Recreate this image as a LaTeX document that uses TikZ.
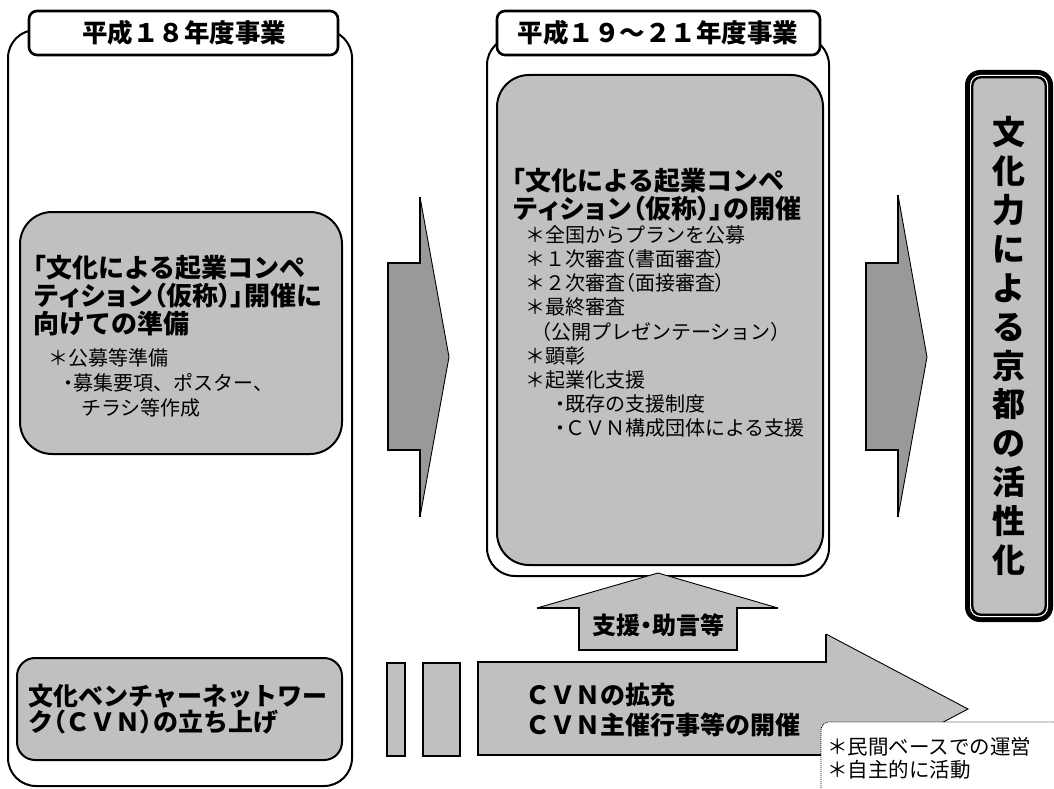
\documentclass[tikz,border=0pt]{standalone}
\usepackage{fontspec}
\setmainfont{Noto Sans CJK JP}
\newfontfamily\jp{Noto Sans CJK JP}
\newfontfamily\jpp{Noto Sans CJK JP}[RawFeature=+palt]
\newcommand{\halfw}[1]{{\jpp #1}}
\definecolor{boxgray}{HTML}{C0C0C0}
\definecolor{arrowgray}{HTML}{999999}
\begin{document}
\begin{tikzpicture}[x=1pt,y=-1pt,
  panel/.style={draw=black,line width=2pt,fill=white,rounded corners=28pt},
  tabbox/.style={draw=black,line width=2.6pt,fill=white,rounded corners=8pt},
  graybox/.style={draw=black,line width=2pt,fill=boxgray},
  thickedge/.style={draw=black,line width=2pt},
  thinedge/.style={draw=black,line width=0.9pt},
  ttl/.style={font=\jp\bfseries\fontsize{25.5}{28}\selectfont,anchor=base,inner sep=0},
  hd/.style={font=\jp\bfseries\fontsize{26}{28}\selectfont,anchor=base west,inner sep=0},
  hdb/.style={font=\jp\bfseries\fontsize{25}{28}\selectfont,anchor=base west,inner sep=0},
  li/.style={font=\jp\fontsize{20}{24}\selectfont,anchor=base west,inner sep=0},
  note/.style={font=\jp\fontsize{20.5}{23}\selectfont,anchor=base west,inner sep=0},
]
\useasboundingbox (0,0) rectangle (1054,789);
\fill[white] (0,0) rectangle (1054,789);

% ---------- left column ----------
\draw[panel] (8,30) rectangle (352,786);
\draw[tabbox] (29,11) rectangle (338,55);
\node[ttl] (t18) at (184,42.7) {平成１８年度事業};

\draw[graybox,rounded corners=32pt] (20,212) rectangle (342,454);
\node[hd] (lh1) at (33,277.8) {\halfw{「}文化による起業コンペ};
\node[hd] (lh2) at (33,305.8) {テ\halfw{ィ}シ\halfw{ョ}ン\halfw{（}仮称\halfw{）」}開催に};
\node[hd] (lh3) at (33,333.8) {向けての準備};
\node[li] (ll1) at (48,365.6) {＊公募等準備};
\node[li] (ll2) at (63,390.6) {\halfw{・}募集要項、ポスター、};
\node[li] (ll3) at (81,415.6) {チラシ等作成};

\draw[graybox,rounded corners=18pt] (17,658) rectangle (342,760);
\node[hdb] (cvn1) at (28,705.5) {文化ベンチャーネットワー};
\node[hdb] (cvn2) at (28,731.5) {ク\halfw{（}ＣＶＮ\halfw{）}の立ち上げ};

% ---------- arrow 1 ----------
\fill[arrowgray] (388,263) -- (420,263) -- (420,197) -- (449,357) -- (420,517) -- (420,450) -- (388,450) -- cycle;
\draw[thickedge] (420,197) -- (420,263) -- (388,263) -- (388,450) -- (420,450) -- (420,517);
\draw[thinedge] (420,197) -- (449,357) -- (420,517);

% ---------- middle column ----------
\draw[panel] (487,37) rectangle (829,576);
\draw[tabbox] (497,11) rectangle (820,55);
\node[ttl] (t19) at (658,42.7) {平成１９～２１年度事業};

\draw[graybox,rounded corners=32pt] (497,75) rectangle (823,565);
\node[hd] (mh1) at (512,190.8) {\halfw{「}文化による起業コンペ};
\node[hd] (mh2) at (512,218.8) {テ\halfw{ィ}シ\halfw{ョ}ン\halfw{（}仮称\halfw{）」}の開催};
\node[li] (m0) at (525,242.6) {＊全国からプランを公募};
\node[li] (m1) at (525,266.7) {＊１次審査\halfw{（}書面審査\halfw{）}};
\node[li] (m2) at (525,290.8) {＊２次審査\halfw{（}面接審査\halfw{）}};
\node[li] (m3) at (525,314.9) {＊最終審査};
\node[li] (m4) at (541,339.0) {\halfw{（}公開プレゼンテーション\halfw{）}};
\node[li] (m5) at (525,363.1) {＊顕彰};
\node[li] (m6) at (525,387.2) {＊起業化支援};
\node[li] (m7) at (555,411.3) {\halfw{・}既存の支援制度};
\node[li] (m8) at (555,435.4) {\halfw{・}ＣＶＮ構成団体による支援};

% ---------- arrow 2 ----------
\fill[arrowgray] (866,263) -- (898,263) -- (898,195) -- (927,357) -- (898,517) -- (898,450) -- (866,450) -- cycle;
\draw[thickedge] (898,195) -- (898,263) -- (866,263) -- (866,450) -- (898,450) -- (898,517);
\draw[thinedge] (898,195) -- (927,357) -- (898,517);

% ---------- right box ----------
\fill[black,rounded corners=15pt] (965,70) rectangle (1053,622);
\fill[white,rounded corners=10pt] (970,75) rectangle (1048,617);
\fill[black,rounded corners=9pt] (971.2,76.2) rectangle (1046.8,615.8);
\fill[boxgray,rounded corners=8pt] (973.4,78.4) rectangle (1044.6,613.6);
\node[font=\jp\bfseries\fontsize{33}{38.9}\selectfont,align=center,inner sep=0] (goal) at (1009,346)
  {文\\化\\力\\に\\よ\\る\\京\\都\\の\\活\\性\\化};

% ---------- up arrow ----------
\fill[boxgray] (579,650) -- (579,608) -- (537,608) -- (658,573) -- (778,608) -- (737,608) -- (737,650) -- cycle;
\draw[thickedge] (537,608) -- (579,608) -- (579,650) -- (737,650) -- (737,608) -- (778,608);
\draw[thinedge] (537,608) -- (658,573) -- (778,608);
\node[font=\jp\bfseries\fontsize{24}{26}\selectfont,anchor=base,inner sep=0] (sup) at (658,634) {支援\halfw{・}助言等};

% ---------- bottom arrow ----------
\draw[graybox] (387,663) rectangle (405,756);
\draw[graybox] (423,663) rectangle (460,756);
\fill[boxgray] (478,662) -- (826,662) -- (826,634) -- (968,709) -- (826,784) -- (826,755) -- (478,755) -- cycle;
\draw[thickedge] (826,634) -- (826,662) -- (478,662) -- (478,755) -- (826,755) -- (826,784);
\draw[thinedge] (826,634) -- (968,709) -- (826,784);
\node[hdb] (ex1) at (525,704.5) {ＣＶＮの拡充};
\node[hdb] (ex2) at (525,734.5) {ＣＶＮ主催行事等の開催};

% ---------- note ----------
\fill[white,rounded corners=8pt] (821,722) rectangle (1070,800);
\draw[black,line width=0.8pt,dash pattern=on 1pt off 1pt,rounded corners=8pt] (821,800) -- (821,722) -- (1070,722);
\node[note] (n1) at (827,754.8) {＊民間ベースでの運営};
\node[note] (n2) at (827,777.8) {＊自主的に活動};
\end{tikzpicture}
\end{document}
